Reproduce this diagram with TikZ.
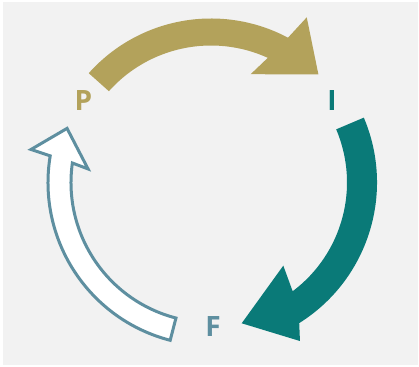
\documentclass[tikz,border=0pt]{standalone}
\usepackage{fontspec}
\setmainfont{Open Sans}
\definecolor{gold}{RGB}{179,162,91}
\definecolor{tealc}{RGB}{10,122,120}
\definecolor{steel}{RGB}{94,143,160}
\definecolor{bg}{RGB}{242,242,242}
\tikzset{
  lbl/.style={inner sep=0pt, font=\fontsize{28}{30}\selectfont\bfseries},
}
\begin{document}
\begin{tikzpicture}[x=1pt,y=1pt]
\useasboundingbox (0,0) rectangle (419,366);
\fill[white] (0,0) rectangle (419,366);
\fill[bg] (3,1) rectangle (418,364);
\begin{scope}[shift={(211,183.5)}]
  % P -> I (gold)
  \fill[gold] (138.2:164) arc[start angle=138.2, end angle=62, radius=164]
    -- (59.9:190.9) -- (45.2:152.4) -- (69.9:115.3) -- (65.5:137)
    arc[start angle=65.5, end angle=138.2, radius=137] -- cycle;
  % I -> F (teal)
  \fill[tealc] (23:166) arc[start angle=23, end angle=-57.9, radius=166]
    -- (-60.7:181.8) -- (-77.7:144.1) -- (-49:110.2) -- (-53.1:136)
    arc[start angle=-53.1, end angle=23, radius=136] -- cycle;
  % F -> P (white, outlined)
  \draw[steel, line width=3pt, fill=white, line join=miter]
    (255.5:163) arc[start angle=255.5, end angle=170.6, radius=163]
    -- (169.6:183) -- (159.4:153.8) -- (173.7:123.7) -- (172:140)
    arc[start angle=172, end angle=255.5, radius=140] -- cycle;
\end{scope}
\node[lbl, text=gold] (P) at (83.5,265) {P};
\node[lbl, text=tealc] (I) at (332,265) {I};
\node[lbl, text=steel] (F) at (213,39) {F};
\end{tikzpicture}
\end{document}
